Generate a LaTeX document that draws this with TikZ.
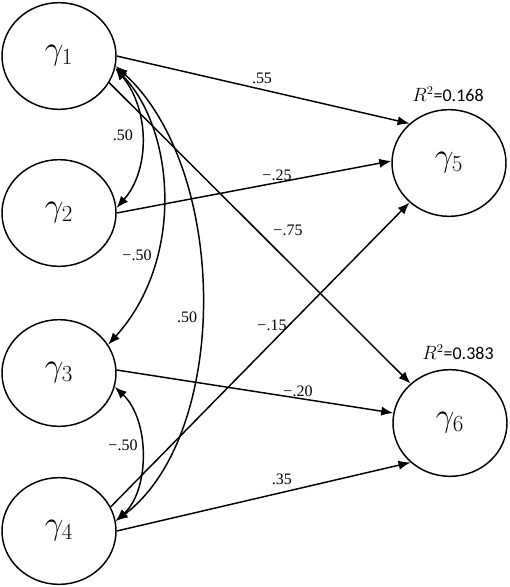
\documentclass[tikz,border=0pt]{standalone}
\usepackage{fontspec}
\setmainfont{Liberation Serif}
\newfontfamily\calib{Carlito}
\usetikzlibrary{arrows.meta,shapes.geometric}
\begin{document}
\begin{tikzpicture}[x=0.75pt,y=-0.75pt,
  latent/.style={ellipse,draw,line width=1.1pt,minimum width=85.5pt,minimum height=80pt,inner sep=0pt,font=\fontsize{25}{30}\selectfont},
  pathar/.style={line width=1.1pt,-{Latex[length=9pt,width=7pt]}},
  cov/.style={line width=1.1pt,{Latex[length=9pt,width=7pt]}-{Latex[length=9pt,width=7pt]}},
  coef/.style={font=\fontsize{12}{14}\selectfont,inner sep=1pt},
  rsq/.style={font=\fontsize{13.5}{16}\selectfont,inner sep=1pt}]
\useasboundingbox (0,0) rectangle (510,587);
\node[latent] (g1) at (59,56) {$\gamma_1$};
\node[latent] (g2) at (59,213) {$\gamma_2$};
\node[latent] (g3) at (59,373) {$\gamma_3$};
\node[latent] (g4) at (59,531) {$\gamma_4$};
\node[latent] (g5) at (449,163) {$\gamma_5$};
\node[latent] (g6) at (450,423) {$\gamma_6$};
\node[rsq] (r5) at (448,94) {$R^2$\calib =0.168};
\node[rsq] (r6) at (458,352) {$R^2$\calib =0.383};
% regression paths
\draw[pathar] (g1.east) -- (g5.135);
\draw[pathar] (g2.east) -- (g5.178);
\draw[pathar] (g1.-28) -- (g6.135);
\draw[pathar] (g4.25) -- (g5.225);
\draw[pathar] (g3.3) -- (g6.170);
\draw[pathar] (g4.east) -- (g6.225);
% covariances
\draw[cov] (g1.-12) .. controls (150,110) and (150,170) .. (g2.5);
\draw[cov] (g1.-12) .. controls (175,130) and (185,260) .. (g3.30);
\draw[cov] (g1.-10) .. controls (230,170) and (230,435) .. (g4.10);
\draw[cov] (g3.-14) .. controls (150,420) and (150,490) .. (g4.10);
% coefficients
\node[coef] (c15) at (262,78) {.55};
\node[coef] (c25) at (277,175) {−.25};
\node[coef] (c16) at (288,230) {−.75};
\node[coef] (c45) at (272,325) {−.15};
\node[coef] (c36) at (298,391) {−.20};
\node[coef] (c46) at (282,479) {.35};
\node[coef] (k12) at (123,135) {.50};
\node[coef] (k13) at (137,255) {−.50};
\node[coef] (k14) at (187,317) {.50};
\node[coef] (k34) at (123,445) {−.50};
\end{tikzpicture}
\end{document}
